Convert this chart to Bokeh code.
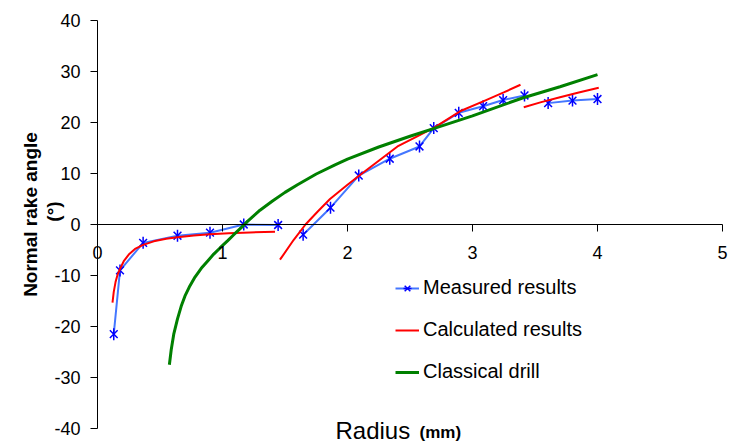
import math
from bokeh.plotting import figure
from bokeh.models import (LinearAxis, Range1d, FixedTicker, Label, Legend,
                          LegendItem, ColumnDataSource, PrintfTickFormatter)
from bokeh.embed import file_html
from bokeh.resources import INLINE

FONT = "Liberation Sans"

# ---- data ----
x_ticks = [0, 1, 2, 3, 4, 5]
y_ticks = [-40, -30, -20, -10, 0, 10, 20, 30, 40]

# Measured results (three separate runs)
meas_x1 = [0.13, 0.18, 0.365, 0.64, 0.90, 1.17, 1.445]
meas_y1 = [-21.5, -9.0, -3.6, -2.2, -1.6, 0.0, -0.1]
meas_x2 = [1.645, 1.864, 2.09, 2.338, 2.576, 2.69, 2.89, 3.085, 3.245, 3.416]
meas_y2 = [-2.0, 3.3, 9.6, 12.9, 15.3, 18.9, 21.9, 23.2, 24.4, 25.3]
meas_x3 = [3.605, 3.80, 4.0]
meas_y3 = [23.8, 24.3, 24.6]

# Calculated results (three separate curves)
calc_x1 = [0.12, 0.13, 0.145, 0.16, 0.18, 0.21, 0.25, 0.30, 0.365, 0.45, 0.55,
           0.64, 0.77, 0.90, 1.05, 1.22, 1.42]
calc_y1 = [-15.3, -13.2, -11.2, -9.9, -8.7, -7.2, -5.9, -4.8, -4.0, -3.3, -2.8,
           -2.5, -2.15, -1.9, -1.7, -1.55, -1.4]
calc_x2 = [1.46, 1.57, 1.664, 1.76, 1.86, 2.0, 2.1, 2.25, 2.4, 2.55, 2.7, 2.9,
           3.09, 3.25, 3.384]
calc_y2 = [-6.9, -3.0, 0.0, 2.5, 5.0, 7.8, 9.7, 12.5, 15.3, 17.2, 19.1, 22.2,
           24.2, 25.9, 27.4]
calc_x3 = [3.41, 3.55, 3.70, 3.85, 4.01]
calc_y3 = [23.0, 24.0, 24.95, 25.9, 26.8]

# Classical drill
clas_x = [0.575, 0.59, 0.61, 0.64, 0.67, 0.70, 0.74, 0.78, 0.83, 0.88, 0.93,
          0.98, 1.04, 1.09, 1.15, 1.2, 1.3, 1.4, 1.5, 1.6, 1.75, 1.9, 2.0,
          2.25, 2.5, 2.7, 3.0, 3.4, 3.7, 4.0]
clas_y = [-27.5, -24.5, -21.5, -18.5, -16.0, -14.0, -12.0, -10.3, -8.6, -7.2,
          -5.8, -4.6, -3.2, -2.0, -0.6, 0.6, 2.8, 4.6, 6.3, 7.8, 9.9, 11.7,
          12.8, 15.2, 17.3, 18.9, 21.3, 24.8, 27.0, 29.4]

# ---- figure: frame covers whole canvas, axes placed at fixed locations ----
W, H = 740, 444
X0_PX, X5_PX = 97, 722          # pixel of x=0 and x=5
Y40_PX, YM40_PX = 20, 428       # pixel of y=40 and y=-40
xppu = (X5_PX - X0_PX) / 5.0
yppu = (YM40_PX - Y40_PX) / 80.0

p = figure(width=W, height=H, output_backend="svg", toolbar_location=None,
           x_range=Range1d(-X0_PX / xppu, 5 + (W - X5_PX) / xppu),
           y_range=Range1d(-40 - (H - YM40_PX) / yppu, 40 + Y40_PX / yppu),
           x_axis_location=None, y_axis_location=None,
           min_border_left=0, min_border_right=0, min_border_top=0,
           min_border_bottom=0)
p.grid.visible = False
p.outline_line_color = None
p.background_fill_color = "white"
p.border_fill_color = "white"


def style_axis(ax, standoff):
    ax.axis_line_color = "black"
    ax.axis_line_width = 1
    ax.major_tick_line_color = "black"
    ax.major_tick_out = 7
    ax.major_tick_in = 0
    ax.minor_tick_out = 0
    ax.minor_tick_in = 0
    ax.major_label_text_font = FONT
    ax.major_label_text_font_size = "18px"
    ax.major_label_text_color = "black"
    ax.major_label_standoff = standoff
    ax.formatter = PrintfTickFormatter(format="%d")


xaxis = LinearAxis(fixed_location=0, bounds=(0, 5),
                   ticker=FixedTicker(ticks=x_ticks))
style_axis(xaxis, 14)
p.add_layout(xaxis, "below")

yaxis = LinearAxis(fixed_location=0, bounds=(-40, 40),
                   ticker=FixedTicker(ticks=y_ticks))
style_axis(yaxis, 10)
p.add_layout(yaxis, "left")

MEAS_LINE = "#4477FF"
MEAS_MARK = "#0000FF"
RED = "#FF0000"
GREEN = "#008000"

meas_renderers = []
for xs, ys in [(meas_x1, meas_y1), (meas_x2, meas_y2), (meas_x3, meas_y3)]:
    src = ColumnDataSource(dict(x=xs, y=ys))
    ln = p.line("x", "y", source=src, line_color=MEAS_LINE, line_width=2)
    sx = p.scatter("x", "y", source=src, marker="x", size=11,
                   line_color=MEAS_MARK, line_width=1.5)
    sd = p.scatter("x", "y", source=src, marker="dash", size=12,
                   angle=math.pi / 2, line_color=MEAS_MARK, line_width=1.5)
    meas_renderers.append([ln, sx, sd])

calc_renderers = []
for xs, ys in [(calc_x1, calc_y1), (calc_x2, calc_y2), (calc_x3, calc_y3)]:
    src = ColumnDataSource(dict(x=xs, y=ys))
    calc_renderers.append(p.line("x", "y", source=src, line_color=RED,
                                 line_width=2))

clas_src = ColumnDataSource(dict(x=clas_x, y=clas_y))
clas_r = p.line("x", "y", source=clas_src, line_color=GREEN, line_width=3)

legend = Legend(items=[
    LegendItem(label="Measured results", renderers=meas_renderers[0]),
    LegendItem(label="Calculated results", renderers=[calc_renderers[0]]),
    LegendItem(label="Classical drill", renderers=[clas_r]),
], location=(395, 61), orientation="vertical", padding=0, margin=0,
    spacing=19, glyph_width=24, glyph_height=20, label_height=20,
    label_standoff=4, label_text_font=FONT, label_text_font_size="20px",
    label_text_color="black", border_line_color=None,
    background_fill_alpha=0)
p.add_layout(legend)

# axis titles (screen units, measured from the canvas bottom-left)
p.add_layout(Label(x=335, y=H - 416, x_units="screen", y_units="screen",
                   text="Radius", text_font=FONT, text_font_size="24px",
                   text_color="black", text_align="left",
                   text_baseline="top"))
p.add_layout(Label(x=419, y=H - 422, x_units="screen", y_units="screen",
                   text="(mm)", text_font=FONT, text_font_size="17px",
                   text_font_style="bold", text_color="black",
                   text_align="left", text_baseline="top"))
p.add_layout(Label(x=30, y=H - 214, x_units="screen", y_units="screen",
                   text="Normal rake angle", text_font=FONT,
                   text_font_size="19px", text_font_style="bold",
                   text_color="black", text_align="center",
                   text_baseline="middle", angle=math.pi / 2))
p.add_layout(Label(x=53, y=H - 211, x_units="screen", y_units="screen",
                   text="(°)", text_font=FONT,
                   text_font_size="19px", text_font_style="bold",
                   text_color="black", text_align="center",
                   text_baseline="middle", angle=math.pi / 2))

open("out.html", "w").write(file_html(p, INLINE))
